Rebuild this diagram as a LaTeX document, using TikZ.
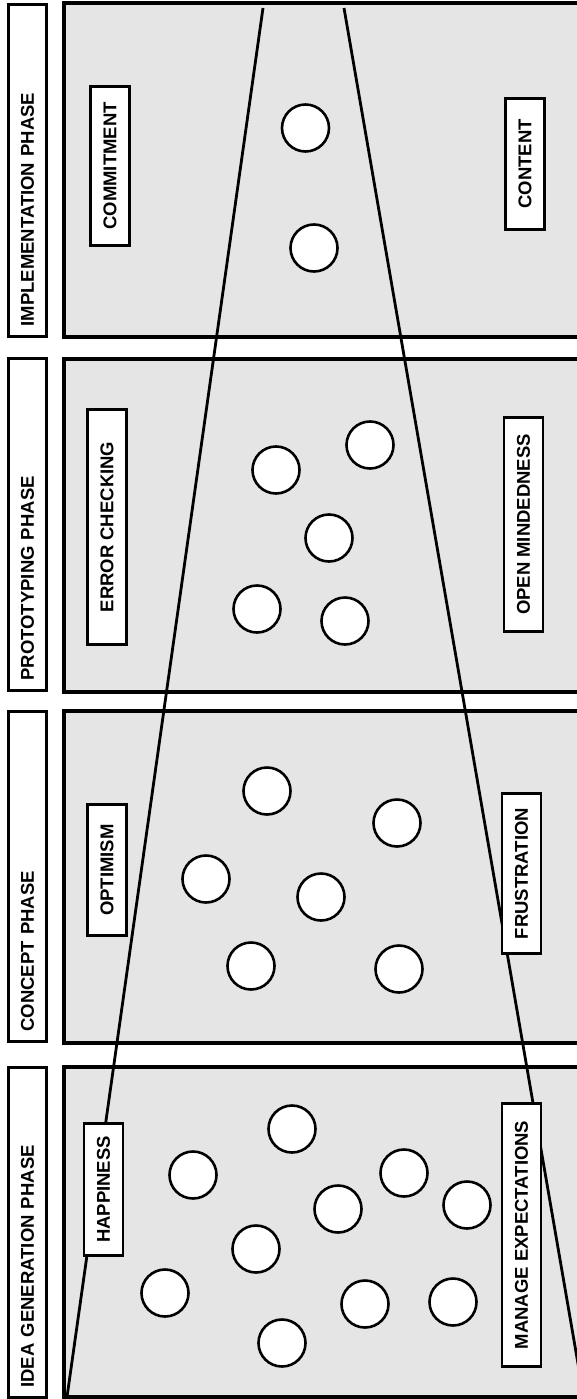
\documentclass[tikz,border=0pt]{standalone}
\usepackage{fontspec}
\setmainfont{Liberation Sans}
\begin{document}
\begin{tikzpicture}[x=1pt,y=-1pt,
  font=\fontsize{18.5}{20}\selectfont\bfseries,
  panel/.style={draw=black,fill=panelgray,line width=4pt},
  phasebox/.style={draw=black,fill=white,line width=2.6pt,rotate=90,
    inner xsep=10pt,inner ysep=0pt,minimum height=38pt,align=left},
  feeling/.style={draw=black,fill=white,line width=2.6pt,rotate=90,
    inner sep=0pt,minimum height=39pt},
  idea/.style={circle,draw=black,fill=white,line width=2.6pt,
    minimum size=47pt,inner sep=0pt},
  funnel/.style={draw=black,line width=2.8pt}]
\definecolor{panelgray}{HTML}{E5E5E5}
\useasboundingbox (0,0) rectangle (577,1399);
\clip (0,0) rectangle (577,1399);

% phase panels, open to the right
\draw[panel] (64,3) rectangle (600,337);
\draw[panel] (64,359) rectangle (600,692);
\draw[panel] (64,711) rectangle (600,1043);
\draw[panel] (64,1067) rectangle (600,1397);

% phase titles
\node[phasebox,text width=312pt] (ph1) at (27.5,170.5) {IMPLEMENTATION PHASE};
\node[phasebox,text width=312pt] (ph2) at (27.5,524.5) {PROTOTYPING PHASE};
\node[phasebox,text width=310pt] (ph3) at (27.5,876.5) {CONCEPT PHASE};
\node[phasebox,text width=310pt] (ph4) at (27.5,1232.5) {IDEA GENERATION PHASE};

% funnel edges
\coordinate (lt) at (263,8);
\coordinate (lb) at (67,1397);
\coordinate (rt) at (344,8);
\coordinate (rb) at (586,1410);
\draw[funnel] (lb) -- (lt);
\draw[funnel] (rb) -- (rt);

% ideas: implementation
\node[idea] (i1) at (305.5,128) {};
\node[idea] (i2) at (314,248) {};
% ideas: prototyping
\node[idea] (p1) at (276,470) {};
\node[idea] (p2) at (370,445) {};
\node[idea] (p3) at (329,538) {};
\node[idea] (p4) at (257,609) {};
\node[idea] (p5) at (345,621) {};
% ideas: concept
\node[idea] (c1) at (267,791) {};
\node[idea] (c2) at (397,823) {};
\node[idea] (c3) at (206,879) {};
\node[idea] (c4) at (321,897) {};
\node[idea] (c5) at (251,966) {};
\node[idea] (c6) at (399,969) {};
% ideas: idea generation
\node[idea] (g1) at (292,1129) {};
\node[idea] (g2) at (193,1175) {};
\node[idea] (g3) at (404,1173) {};
\node[idea] (g4) at (338,1209) {};
\node[idea] (g5) at (467,1205) {};
\node[idea] (g6) at (256,1249) {};
\node[idea] (g7) at (165,1293) {};
\node[idea] (g8) at (365,1304) {};
\node[idea] (g9) at (453,1302) {};
\node[idea] (g10) at (282,1343) {};

% feelings along the funnel
\node[feeling,minimum width=159pt] (commit) at (110,166) {COMMITMENT};
\node[feeling,minimum width=131pt] (content) at (525,164) {CONTENT};
\node[feeling,minimum width=235pt] (error) at (107,527) {ERROR CHECKING};
\node[feeling,minimum width=214pt] (open) at (523.5,524.5) {OPEN MINDEDNESS};
\node[feeling,minimum width=131pt] (optim) at (107,870) {OPTIMISM};
\node[feeling,minimum width=160pt] (frust) at (521.5,873.5) {FRUSTRATION};
\node[feeling,minimum width=132pt] (happy) at (103.5,1189.5) {HAPPINESS};
\node[feeling,minimum width=263pt] (manage) at (521.5,1235) {MANAGE EXPECTATIONS};
\end{tikzpicture}
\end{document}
